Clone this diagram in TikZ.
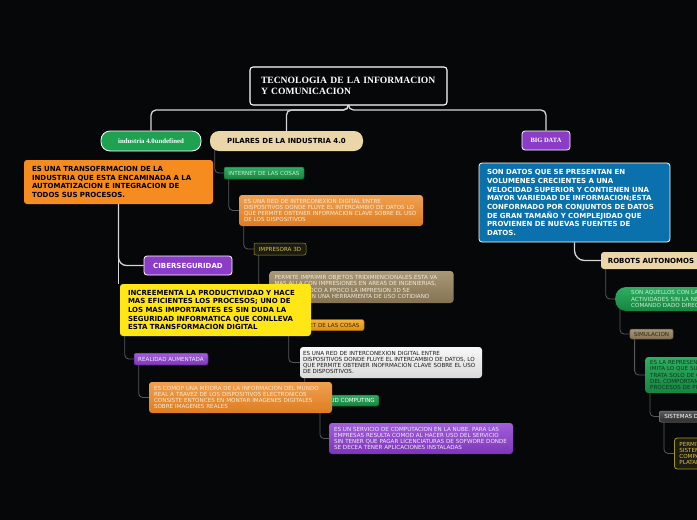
\documentclass[tikz,border=0pt]{standalone}
\usepackage{fontspec}
\setmainfont{DejaVu Sans}
\newfontfamily\serifface{Liberation Serif}
\usetikzlibrary{backgrounds}

\definecolor{mapbg}{HTML}{060709}
\definecolor{mapline}{HTML}{D6D6D6}
\definecolor{maptwig}{HTML}{585858}
\definecolor{mapgreen}{HTML}{1FA152}
\definecolor{mapbeige}{HTML}{EAD6A8}
\definecolor{mappurple}{HTML}{8B3DC8}
\definecolor{maporange}{HTML}{F68B1F}
\definecolor{mapyellow}{HTML}{FFE614}
\definecolor{mapblue}{HTML}{0B71AC}
\definecolor{greentop}{HTML}{2FAE62}
\definecolor{greenbot}{HTML}{178440}
\definecolor{greenrim}{HTML}{0F5F2D}
\definecolor{greentext}{HTML}{C9EFD3}
\definecolor{greendark}{HTML}{0C3A1E}
\definecolor{orangetop}{HTML}{F0A050}
\definecolor{orangebot}{HTML}{DD7D22}
\definecolor{orangetext}{HTML}{FBEAD2}
\definecolor{goldtop}{HTML}{F3B43A}
\definecolor{goldbot}{HTML}{DD8F12}
\definecolor{goldrim}{HTML}{A56A10}
\definecolor{goldtext}{HTML}{3B2600}
\definecolor{tantop}{HTML}{A89878}
\definecolor{tanbot}{HTML}{857353}
\definecolor{tanrim}{HTML}{5B4E3A}
\definecolor{tantext}{HTML}{F2EAD8}
\definecolor{tandark}{HTML}{2E2518}
\definecolor{greytop}{HTML}{F8F8F8}
\definecolor{greybot}{HTML}{DADADA}
\definecolor{greytext}{HTML}{1D1D1D}
\definecolor{violettop}{HTML}{A15FD9}
\definecolor{violetbot}{HTML}{7D35B8}
\definecolor{violetrim}{HTML}{4A2070}
\definecolor{violettext}{HTML}{F4ECFC}
\definecolor{olivefill}{HTML}{1D1C10}
\definecolor{olivetext}{HTML}{D9C54E}
\definecolor{oliverim}{HTML}{A09628}
\definecolor{slatetop}{HTML}{5A5A5A}
\definecolor{slatebot}{HTML}{2C2C2C}
\definecolor{slaterim}{HTML}{8A8A8A}

\newcommand\titletext{\serifface\bfseries\fontsize{9.6}{11}\selectfont}
\newcommand\labeltext{\serifface\bfseries\fontsize{6.8}{8}\selectfont}
\newcommand\heavytext{\bfseries\fontsize{7}{8.7}\selectfont}
\newcommand\lighttext{\fontsize{5.6}{6.3}\selectfont}

\begin{document}
\begin{tikzpicture}[x=1pt,y=-1pt,
	titlebox/.style={ draw=white, line width=1.1pt, fill=mapbg, rounded corners=3pt, text=white, font=\titletext, align=left, text width=175pt, inner xsep=11pt, minimum height=38pt },
	pill/.style={ rounded corners=9pt, inner sep=0pt, minimum height=20pt },
	topic/.style={ rounded corners=3pt, inner sep=0pt, font=\heavytext },
	desc/.style={ rounded corners=3pt, align=left, font=\heavytext, text=black, inner xsep=8pt, inner ysep=0pt },
	tag/.style={ rounded corners=2pt, inner xsep=4pt, inner ysep=0pt, font=\lighttext, line width=0.5pt },
	note/.style={ rounded corners=3pt, align=left, font=\lighttext, inner xsep=5pt, inner ysep=0pt, text width=174pt, minimum height=31pt },
	trunk/.style={ draw=mapline, line width=1.3pt, rounded corners=5pt },
	twig/.style={ draw=maptwig, line width=0.8pt, rounded corners=4pt }
]
\useasboundingbox (0,0) rectangle (697,520);
\clip (0,0) rectangle (697,520);

\node at (348.5,86) (title) [titlebox] {TECNOLOGIA DE LA INFORMACION\\Y COMUNICACION};
\node at (151,141) (ind) [pill, fill=mapgreen, draw=white, line width=0.8pt, text=white, font=\labeltext, minimum width=100pt] {industria 4.0undefined};
\node at (286.5,141) (pil) [pill, fill=mapbeige, text=black, font=\heavytext, minimum width=153pt] {PILARES DE LA INDUSTRIA 4.0};
\node at (546,140.5) (big) [topic, fill=mappurple, draw=white, line width=0.8pt, text=white, font=\serifface\bfseries\fontsize{6.5}{7}\selectfont, minimum width=48pt, minimum height=19pt] {BIG DATA};

\node at (264,173) (iot) [tag, top color=greentop, bottom color=greenbot, draw=greenrim, text=greentext, minimum width=80pt, minimum height=12pt] {INTERNET DE LAS COSAS};
\node at (331,210.5) (iotnote) [note, top color=orangetop, bottom color=orangebot, text=orangetext] {ES UNA RED DE INTERCONEXION DIGITAL ENTRE\\DISPOSITIVOS DONDE FLUYE EL INTERCAMBIO DE DATOS LO\\QUE PERMITE OBTENER INFORMACION CLAVE SOBRE EL USO\\DE LOS DISPOSITIVOS};
\node at (280,249) (printer) [tag, fill=olivefill, draw=oliverim, text=olivetext, minimum width=52pt, minimum height=12pt] {IMPRESORA 3D};
\node at (361.5,287) (printnote) [note, top color=tantop, bottom color=tanbot, text=tantext, minimum height=32pt] {PERMITE IMPRIMIR OBJETOS TRIDIMIENCIONALES.ESTA VA\\MAS ALLA CON IMPRESIONES EN AREAS DE INGENIERIAS,\\MEDICINA, POCO A PPOCO LA IMPRESION 3D SE\\CONVIERTE EN UNA HERRAMIENTA DE USO COTIDIANO};
\node at (324,325) (iotb) [tag, top color=goldtop, bottom color=goldbot, draw=goldrim, text=goldtext, minimum width=80pt, minimum height=11pt] {INTERNET DE LAS COSAS};
\node at (391,362.5) (iotbnote) [note, top color=greytop, bottom color=greybot, text=greytext, inner xsep=3pt, text width=176pt] {ES UNA RED DE INTERCONEXION DIGITAL ENTRE\\DISPOSITIVOS DONDE FLUYE EL INTERCAMBIO DE DATOS, LO\\QUE PERMITE OBTENER INOFRMACION CLAVE SOBRE EL USO\\DE DISPOSITIVOS.};
\node at (347,400.5) (cloud) [tag, top color=greentop, bottom color=greenbot, draw=greenrim, text=white, minimum width=62pt, minimum height=11pt] {CLOUD COMPUTING};
\node at (421,438.5) (cloudnote) [note, top color=violettop, bottom color=violetbot, text=violettext] {ES UN SERVICIO DE COMPUTACION EN LA NUBE. PARA LAS\\EMPRESAS RESULTA COMOD AL HACER USO DEL SERVICIO\\SIN TENER QUE PAGAR LICENCIATURAS DE SOFWORE DONDE\\SE DECEA TENER APLICACIONES INSTALADAS};

\node at (118.5,182) (trans) [desc, fill=maporange, text width=173pt, minimum height=44pt] {ES UNA TRANSOFRMACION DE LA\\INDUSTRIA QUE ESTA ENCAMINADA A LA\\AUTOMATIZACION E INTEGRACION DE\\TODOS SUS PROCESOS.};
\node at (188,265.5) (cyber) [topic, fill=mappurple, draw=white, line width=0.8pt, text=white, minimum width=88pt, minimum height=19pt] {CIBERSEGURIDAD};
\node at (215.5,310) (prod) [desc, fill=mapyellow, text width=175pt, minimum height=52pt] {INCREEMENTA LA PRODUCTIVIDAD Y HACE\\MAS EFICIENTES LOS PROCESOS; UNO DE\\LOS MAS IMPORTANTES ES SIN DUDA LA\\SEGURIDAD INFORMATICA QUE CONLLEVA\\ESTA TRANSFORMACION DIGITAL};
\node at (171,359) (augm) [tag, top color=violettop, bottom color=violetbot, draw=violetrim, text=violettext, minimum width=74pt, minimum height=12pt] {REALIDAD AUMENTADA};
\node at (240.5,397.5) (augmnote) [note, top color=orangetop, bottom color=orangebot, text=orangetext, text width=173pt] {ES COMOP UNA MEIDRA DE LA INFORMACION DEL MUNDO\\REAL A TRAVEZ DE LOS DISPOSITIVOS ELECTRONICOS\\CONSISTE ENTONCES EN MONTAR IMAGENES DIGITALES\\SOBRE IMAGENES REALES};

\node at (574.5,202.5) (data) [desc, fill=mapblue, draw=white, line width=0.8pt, text=white, text width=175pt, minimum height=79pt] {SON DATOS QUE SE PRESENTAN EN\\VOLUMENES CRECIENTES A UNA\\VELOCIDAD SUPERIOR Y CONTIENEN UNA\\MAYOR VARIEDAD DE INFORMACION;ESTA\\CONFORMADO POR CONJUNTOS DE DATOS\\DE GRAN TAMAÑO Y COMPLEJIDAD QUE\\PROVIENEN DE NUEVAS FUENTES DE\\DATOS.};
\node at (651,260.5) (robots) [topic, fill=mapbeige, text=black, minimum width=100pt, minimum height=17pt] {ROBOTS AUTONOMOS};
\node at (615,299) (robotsnote) [note, anchor=west, rounded corners=11pt, top color=greentop, bottom color=greenbot, text=greentext, inner xsep=16pt, text width=200pt, minimum height=24pt] {SON AQUELLOS CON LA CAPACIDAD DE REALIZAR\\ACTIVIDADES SIN LA NECESIDAD DE UN\\COMANDO DADO DIRECTAMENTE};
\node at (651.5,334) (sim) [tag, top color=tantop, bottom color=tanbot, draw=tanrim, text=tandark, minimum width=43pt, minimum height=10pt] {SIMULACION};
\node at (645,375) (simnote) [note, anchor=west, top color=greentop, bottom color=greenbot, text=greendark, text width=180pt, minimum height=36pt] {ES LA REPRESENTACION DE UN SISTEMA QUE\\IMITA LO QUE SUCEDE EN LA REALIDAD, NO SE\\TRATA SOLO DE COPIAR SINO DE ENTENDER\\DEL COMPORTAMIENTO DE LOS SISTEMAS Y\\PROCESOS DE PRODUCCION};
\node at (659,416.5) (integ) [tag, anchor=west, top color=slatetop, bottom color=slatebot, draw=slaterim, text=white, inner xsep=5pt, minimum height=11pt] {SISTEMAS DE INTEGRACION};
\node at (674,453.5) (integnote) [note, anchor=west, fill=olivefill, draw=oliverim, line width=0.8pt, text=olivetext, text width=100pt] {PERMITE QUE LOS\\SISTEMAS SE CONECTEN\\COMPARTIENDO\\PLATAFORMAS};

\begin{scope}[on background layer]
\fill[mapbg] (0,0) rectangle (697,520);
\coordinate (bus) at (348.5,110);
\foreach \p in {ind,pil,big} \draw[trunk] (title.south) -- (bus) -| (\p.north);
\draw[trunk, rounded corners=8pt] (trans.south) |- (cyber.west);
\draw[trunk] (trans.south) -- (trans.south |- prod.north);
\draw[trunk, rounded corners=10pt] (data.south) |- (robots.west);
\foreach \a/\b in {prod/augm,augm/augmnote,pil/iot,iot/iotnote,iotnote/printer,printer/printnote,printnote/iotb,iotb/iotbnote,iotbnote/cloud,cloud/cloudnote,robots/robotsnote,robotsnote/sim,sim/simnote,simnote/integ,integ/integnote}
	\draw[twig] ([xshift=5pt,yshift=3pt]\a.south west) |- (\b.west);
\end{scope}

\end{tikzpicture}
\end{document}
